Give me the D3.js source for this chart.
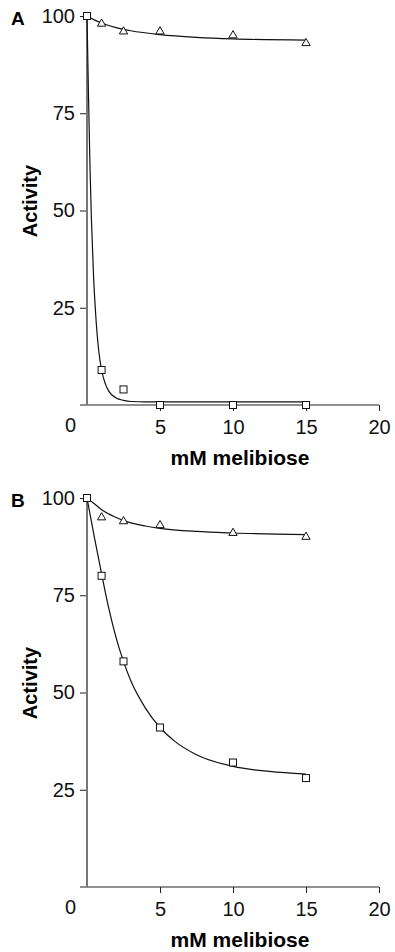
<!DOCTYPE html>
<html>
<head>
<meta charset="utf-8">
<script src="https://cdn.jsdelivr.net/npm/d3@7"></script>
<style>
  body { margin: 0; background: #fff; }
  text { font-family: Arial, "Liberation Sans", sans-serif; }
</style>
</head>
<body>
<div id="chart-area"></div>
<script>
// measured points
var doseX = [0, 1, 2.5, 5, 10, 15];
var triA = [100, 98, 96, 96, 95, 93];
var sqA  = [100, 9, 4, 0, 0, 0];
var triB = [100, 95, 94, 93, 91, 90];
var sqB  = [100, 80, 58, 41, 32, 28];

// fitted curves
var fitTriAx = [0, 0.5, 1, 2, 3, 5, 7.5, 10, 15];
var fitTriAy = [100, 99, 98.2, 97, 96.2, 95.2, 94.5, 94.1, 93.8];
var fitSqAx = [0, 0.1, 0.2, 0.3, 0.45, 0.6, 0.8, 1, 1.25, 1.5, 2, 2.5, 3, 4, 5, 10, 15];
var fitSqAy = [100, 80, 62, 48, 33, 23, 14, 9, 5.5, 3.5, 1.8, 1.2, 0.9, 0.8, 0.8, 0.8, 0.8];
var fitTriBx = [0, 0.5, 1, 2, 2.5, 3, 4, 5, 7.5, 10, 15];
var fitTriBy = [100, 98.5, 97, 95, 94.2, 93.6, 92.8, 92.2, 91.4, 91, 90.6];
var fitSqBx = [0, 0.5, 1, 1.5, 2, 2.5, 3, 4, 5, 6, 7.5, 10, 12.5, 15];
var fitSqBy = [100, 90, 80.5, 71.5, 64, 58, 53, 46, 41, 37.5, 34, 31, 29.7, 29];

var xTicks = [0, 5, 10, 15, 20];
var yTicks = [25, 50, 75, 100];

var panels = [
  { letter: "A", top: 16, tri: triA, sq: sqA, fitTx: fitTriAx, fitTy: fitTriAy, fitSx: fitSqAx, fitSy: fitSqAy },
  { letter: "B", top: 498, tri: triB, sq: sqB, fitTx: fitTriBx, fitTy: fitTriBy, fitSx: fitSqBx, fitSy: fitSqBy }
];

var svg = d3.select("#chart-area")
  .append("svg")
    .attr("width", 395)
    .attr("height", 952);

var x = d3.scaleLinear().domain([0, 20]).range([87, 379]);

panels.forEach(function(p) {
  var y = d3.scaleLinear().domain([0, 100]).range([p.top + 389, p.top]);
  var g = svg.append("g");

  // x axis
  var xAxisCall = d3.axisBottom(x).tickValues(xTicks).tickSize(6).tickSizeOuter(0);
  var xa = g.append("g")
    .attr("transform", "translate(0," + y(0) + ")")
    .call(xAxisCall);
  xa.select(".domain").remove();
  xa.append("line")
    .attr("x1", 80).attr("x2", x(20))
    .attr("stroke", "#222").attr("stroke-width", 1.2);
  xa.selectAll(".tick line").attr("stroke", "#222");
  xa.selectAll(".tick text")
    .attr("font-size", "20px")
    .attr("fill", "#111")
    .attr("y", 29)
    .attr("dy", null);
  xa.selectAll(".tick").filter(function(d) { return d === 0; })
    .each(function() {
      d3.select(this).select("line").remove();
      d3.select(this).select("text").attr("x", -17).attr("y", 27);
    });

  // y axis
  var yAxisCall = d3.axisLeft(y).tickValues(yTicks).tickSize(7).tickPadding(5).tickSizeOuter(0);
  var ya = g.append("g")
    .attr("transform", "translate(87,0)")
    .call(yAxisCall);
  ya.select(".domain").remove();
  ya.append("line")
    .attr("y1", y(100)).attr("y2", y(0))
    .attr("stroke", "#777").attr("stroke-width", 2);
  ya.selectAll(".tick line").attr("stroke", "#222");
  ya.selectAll(".tick text")
    .attr("font-size", "20px")
    .attr("fill", "#111");

  // labels
  g.append("text")
    .attr("x", 11).attr("y", p.top + 9)
    .attr("font-size", "19px").attr("font-weight", "bold")
    .text(p.letter);

  g.append("text")
    .attr("transform", "translate(37," + (p.top + 185) + ") rotate(-90)")
    .attr("text-anchor", "middle")
    .attr("font-size", "20px").attr("font-weight", "bold")
    .text("Activity");

  g.append("text")
    .attr("x", 240).attr("y", y(0) + 60)
    .attr("text-anchor", "middle")
    .attr("font-size", "21px").attr("font-weight", "bold")
    .text("mM melibiose");

  // fitted lines
  var line = d3.line()
    .x(function(d) { return x(d[0]); })
    .y(function(d) { return y(d[1]); })
    .curve(d3.curveMonotoneX);

  g.append("path")
    .attr("d", line(d3.zip(p.fitTx, p.fitTy)))
    .attr("fill", "none").attr("stroke", "#111").attr("stroke-width", 1.2);
  g.append("path")
    .attr("d", line(d3.zip(p.fitSx, p.fitSy)))
    .attr("fill", "none").attr("stroke", "#111").attr("stroke-width", 1.2);

  // triangles
  var triSym = d3.symbol().type(d3.symbolTriangle).size(30);
  g.selectAll(".tri")
    .data(d3.zip(doseX, p.tri).slice(1))
    .enter()
    .append("path")
      .attr("class", "tri")
      .attr("d", triSym)
      .attr("transform", function(d) { return "translate(" + x(d[0]) + "," + y(d[1]) + ")"; })
      .attr("fill", "#fff").attr("stroke", "#111").attr("stroke-width", 1);

  // squares
  g.selectAll(".sq")
    .data(d3.zip(doseX, p.sq))
    .enter()
    .append("rect")
      .attr("class", "sq")
      .attr("x", function(d) { return x(d[0]) - 3.5; })
      .attr("y", function(d) { return y(d[1]) - 3.5; })
      .attr("width", 7).attr("height", 7)
      .attr("fill", "#fff").attr("stroke", "#111").attr("stroke-width", 1);
});
</script>
</body>
</html>
